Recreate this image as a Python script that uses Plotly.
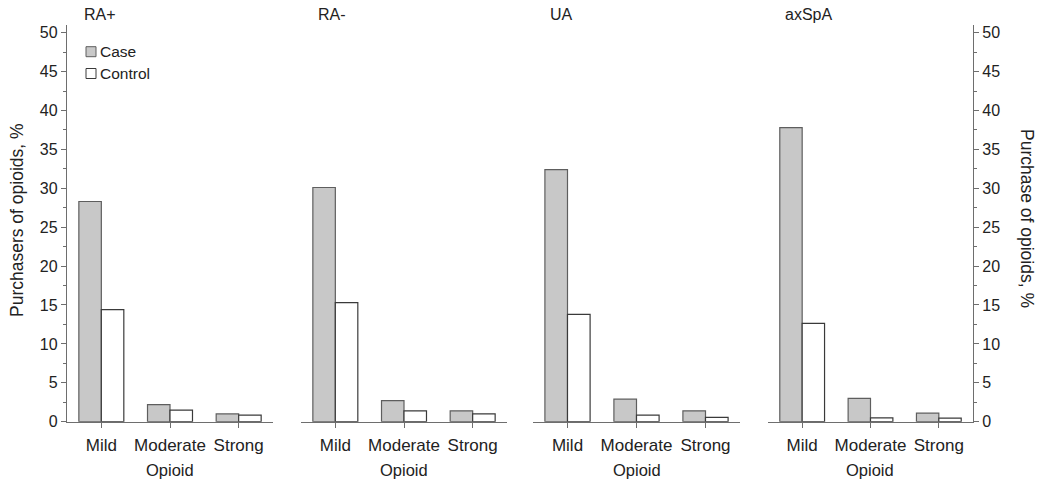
import plotly.graph_objects as go

W, H = 1043, 480

groups = ["RA+", "RA-", "UA", "axSpA"]
categories = ["Mild", "Moderate", "Strong"]
case_values = [
    [28.3, 2.2, 1.0],
    [30.1, 2.7, 1.4],
    [32.4, 2.9, 1.4],
    [37.8, 3.0, 1.1],
]
control_values = [
    [14.4, 1.5, 0.85],
    [15.3, 1.4, 1.0],
    [13.8, 0.85, 0.55],
    [12.65, 0.5, 0.45],
]
y_ticks = [0, 5, 10, 15, 20, 25, 30, 35, 40, 45, 50]

FONT = "Liberation Sans, Arial, sans-serif"
TXT = "#222222"
AX = "#6e6e6e"

# panel domains in pixels
panel_px = [(67, 273), (301, 507), (533, 740), (768, 973)]
y_bottom_px, y_top_px = 421.7, 24.9

fig = go.Figure()
for i, g in enumerate(groups):
    n = "" if i == 0 else str(i + 1)
    fig.add_trace(go.Bar(
        x=categories, y=case_values[i], name="Case",
        marker=dict(color="#c8c8c8", line=dict(color="#5e5e5e", width=1.2)),
        xaxis="x" + n, yaxis="y" + n, showlegend=False,
    ))
    fig.add_trace(go.Bar(
        x=categories, y=control_values[i], name="Control",
        marker=dict(color="#ffffff", line=dict(color="#3a3a3a", width=1.2)),
        xaxis="x" + n, yaxis="y" + n, showlegend=False,
    ))

ydom = [(H - y_bottom_px) / H, (H - y_top_px) / H]
layout = dict(
    width=W, height=H, autosize=False,
    margin=dict(l=0, r=0, t=0, b=0),
    paper_bgcolor="white", plot_bgcolor="white",
    barmode="group", bargap=0.345, bargroupgap=0,
    font=dict(family=FONT, size=16, color=TXT),
    showlegend=False,
)
for i in range(4):
    n = "" if i == 0 else str(i + 1)
    x0, x1 = panel_px[i]
    layout["xaxis" + n] = dict(
        domain=[x0 / W, x1 / W], anchor="y" + n,
        range=[-0.5, 2.5], type="category",
        showline=True, linecolor=AX, linewidth=1.3,
        ticks="outside", ticklen=5, tickcolor=AX, tickwidth=1.3,
        showgrid=False, zeroline=False, automargin=False,
        tickfont=dict(size=17, color=TXT, family=FONT),
        ticklabelstandoff=3,
        fixedrange=True,
    )
    ya = dict(
        domain=ydom, anchor="x" + n, range=[0, 51],
        showgrid=False, zeroline=False, automargin=False,
        fixedrange=True,
    )
    if i == 0 or i == 3:
        ya.update(
            showline=True, linecolor=AX, linewidth=1.3,
            ticks="outside", ticklen=5, tickcolor=AX, tickwidth=1.3,
            tickvals=y_ticks, ticktext=[str(v) for v in y_ticks],
            tickfont=dict(size=16, color=TXT, family=FONT),
            minor=dict(ticks="outside", ticklen=3, tickcolor=AX, tickwidth=1.2, dtick=2.5, tick0=0),
            side="left" if i == 0 else "right",
        )
    else:
        ya.update(visible=False)
    layout["yaxis" + n] = ya

annotations = []
shapes = []
for i, g in enumerate(groups):
    x0, x1 = panel_px[i]
    annotations.append(dict(
        text=g, x=(x0 + 15) / W, y=(H - 14.5) / H, xref="paper", yref="paper",
        xanchor="left", yanchor="middle", showarrow=False,
        font=dict(size=16, color=TXT, family=FONT),
    ))
    annotations.append(dict(
        text="Opioid", x=((x0 + x1) / 2) / W, y=(H - 470) / H, xref="paper", yref="paper",
        xanchor="center", yanchor="middle", showarrow=False,
        font=dict(size=16.5, color=TXT, family=FONT),
    ))

annotations.append(dict(
    text="Purchasers of opioids, %", x=17 / W, y=(H - 220) / H, xref="paper", yref="paper",
    xanchor="center", yanchor="middle", showarrow=False, textangle=-90,
    font=dict(size=17.5, color=TXT, family=FONT),
))
annotations.append(dict(
    text="Purchase of opioids, %", x=1027 / W, y=(H - 218) / H, xref="paper", yref="paper",
    xanchor="center", yanchor="middle", showarrow=False, textangle=90,
    font=dict(size=17.5, color=TXT, family=FONT),
))

# legend drawn manually
legend_items = [("Case", "#c8c8c8", "#5e5e5e", 51.7), ("Control", "#ffffff", "#3a3a3a", 73.5)]
for label, fill, edge, cy in legend_items:
    shapes.append(dict(
        type="rect", xref="paper", yref="paper",
        x0=86 / W, x1=96 / W, y0=(H - cy - 5) / H, y1=(H - cy + 5) / H,
        fillcolor=fill, line=dict(color=edge, width=1),
    ))
    annotations.append(dict(
        text=label, x=97.5 / W, y=(H - cy) / H, xref="paper", yref="paper",
        xanchor="left", yanchor="middle", showarrow=False,
        font=dict(size=15.5, color=TXT, family=FONT),
    ))

layout["annotations"] = annotations
layout["shapes"] = shapes
fig.update_layout(**layout)
fig.write_html("out.html")
